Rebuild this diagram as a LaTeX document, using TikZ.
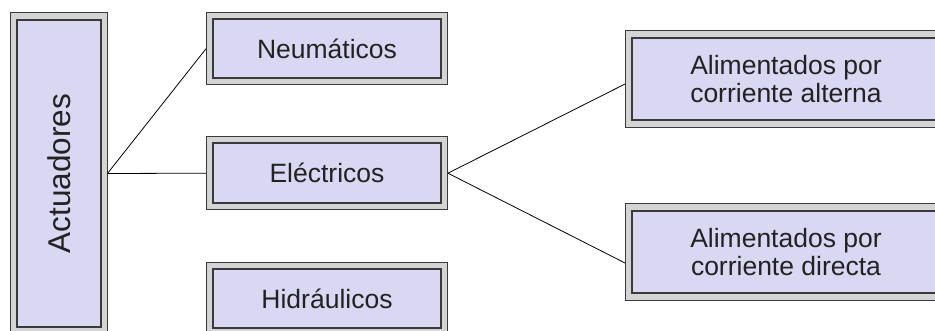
\documentclass[tikz,border=0pt]{standalone}
\usepackage{fontspec}
\setmainfont{Liberation Sans}
\definecolor{lav}{HTML}{DAD7F3}
\definecolor{band}{HTML}{D4D4D4}
\definecolor{edge}{HTML}{3A3A3A}
\definecolor{midgray}{HTML}{7A7A7A}
\definecolor{txt}{HTML}{222222}
\tikzset{
  frame/.style={draw=edge, fill=band, line width=0.9pt, inner sep=0pt},
  inbox/.style={draw=edge, fill=lav, line width=2pt, inner sep=0pt, align=center,
    text=txt, font=\fontsize{26.5}{27.5}\selectfont,
    append after command={
      \pgfextra{\draw[midgray, line width=0.8pt]
        ([shift={(1.6pt,-1.6pt)}]\tikzlastnode.north west) rectangle
        ([shift={(-1.6pt,1.6pt)}]\tikzlastnode.south east);}}},
  link/.style={draw=black, line width=0.8pt}
}
\begin{document}
\begin{tikzpicture}[x=1pt, y=-1pt]
\useasboundingbox (0,0) rectangle (935,331);
\clip (0,0) rectangle (935,331);
\fill[white] (0,0) rectangle (935,331);
% Actuadores
\node[frame, minimum width=96.5pt, minimum height=322pt] (actF) at (58.75,173.5) {};
\node[inbox, minimum width=84pt, minimum height=307pt, font=\fontsize{31.5}{33}\selectfont] (act) at (actF.center) {\rotatebox{90}{Actuadores}};
% Neumaticos
\node[frame, minimum width=241pt, minimum height=72pt] (neuF) at (327,48.7) {};
\node[inbox, minimum width=228pt, minimum height=59pt] (neu) at (neuF.center) {Neumáticos};
% Electricos
\node[frame, minimum width=241pt, minimum height=73pt] (eleF) at (327,173.2) {};
\node[inbox, minimum width=228pt, minimum height=60pt] (ele) at (eleF.center) {Eléctricos};
% Hidraulicos
\node[frame, minimum width=241pt, minimum height=72pt] (hidF) at (327,298.5) {};
\node[inbox, minimum width=228pt, minimum height=59pt] (hid) at (hidF.center) {Hidráulicos};
% Alterna
\node[frame, minimum width=321pt, minimum height=97pt] (altF) at (786,79) {};
\node[inbox, minimum width=308pt, minimum height=82pt] (alt) at (altF.center) {Alimentados por\\corriente alterna};
% Directa
\node[frame, minimum width=321pt, minimum height=97pt] (dirF) at (786,252) {};
\node[inbox, minimum width=308pt, minimum height=82pt] (dir) at (dirF.center) {Alimentados por\\corriente directa};
% connectors
\coordinate (actR) at (actF.east);
\draw[link] (actR) -- (neuF.west);
\draw[link] (actR) -- (eleF.west);
\draw[link] (eleF.east) -- ([yshift=-5pt]altF.west);
\draw[link] (eleF.east) -- ([yshift=-11pt]dirF.west);
\end{tikzpicture}
\end{document}
